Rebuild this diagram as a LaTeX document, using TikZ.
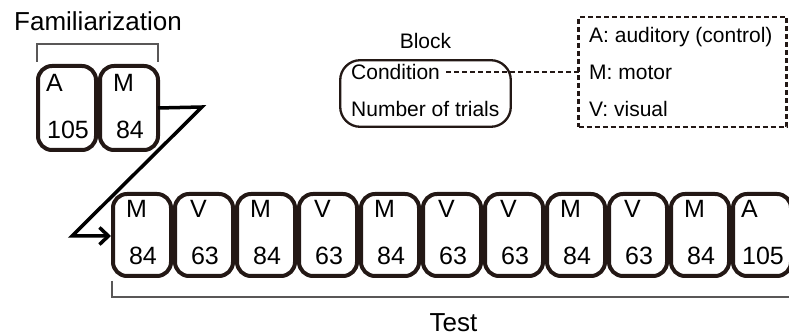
\documentclass[tikz,border=0pt]{standalone}
\usepackage{fontspec}
\setmainfont{Liberation Sans}
\usetikzlibrary{arrows.meta,calc}
\definecolor{boxc}{RGB}{35,24,21}
\definecolor{brk}{RGB}{89,87,87}
\begin{document}
\begin{tikzpicture}[x=1pt,y=-1pt,
  blockbox/.style={draw=boxc,line width=4pt,rounded corners=14pt,minimum width=58pt,inner sep=0pt,outer sep=0pt},
  big/.style={font=\fontsize{25}{30}\selectfont,inner sep=0pt,anchor=base},
  title/.style={font=\fontsize{26}{30}\selectfont,inner sep=0pt,anchor=base},
  small/.style={font=\fontsize{21}{25}\selectfont,inner sep=0pt,anchor=base west},
  bracket/.style={draw=brk,line width=1.5pt},
  dashpat/.style={draw=boxc,line width=2.2pt,dash pattern=on 5pt off 3pt}]
\useasboundingbox (0,0) rectangle (789,336);
\clip (0,0) rectangle (789,336);

% Familiarization
\node[title] (famt) at (98,31) {Familiarization};
\draw[bracket] (37,62) -- (37,44) -- (158,44) -- (158,62);
\node[blockbox,minimum height=84pt] (f1) at (67,108) {};
\node[blockbox,minimum height=84pt] (f2) at (129,108) {};
\node[big] (f1l) at ($(f1.north west)+(16.5,26)$) {A};
\node[big] (f1n) at ($(f1.south)+(1,-11.5)$) {105};
\node[big] (f2l) at ($(f2.north west)+(23.5,26)$) {M};
\node[big] (f2n) at ($(f2.south)+(1,-11.5)$) {84};

% Test
\foreach \l/\n/\o [count=\i from 0] in {M/84/23.5,V/63/23.5,M/84/23.5,V/63/23.5,M/84/23.5,V/63/23.5,V/63/23.5,M/84/23.5,V/63/23.5,M/84/23.5,A/105/16.5}{
  \node[blockbox,minimum height=82pt] (t\i) at ({142+62*\i},235) {};
  \node[big] (t\i l) at ($(t\i.north west)+(\o,24)$) {\l};
  \node[big] (t\i n) at ($(t\i.south)+(1,-11.5)$) {\n};
}
\draw[bracket] (112,281) -- (112,297) -- (800,297);
\node[title] (testt) at (453.5,331) {Test};

% Z arrow
\coordinate (z1) at (202,107);
\coordinate (z2) at (72,236);
\draw[black,line width=3.5pt,shorten >=2pt,-{Straight Barb[length=9pt,width=17pt]}]
  (f2.east) -- (z1) -- (z2) -- (z2 -| t0.west);

% Legend
\node[font=\fontsize{21}{25}\selectfont,inner sep=0pt,anchor=base] (blkt) at (425.5,49) {Block};
\node[draw=boxc,line width=2.3pt,rounded corners=20pt,minimum width=170.6pt,minimum height=66.6pt,inner sep=0pt,outer sep=0pt] (blk) at (425.5,93.5) {};
\node[small] (cond) at (351,80) {Condition};
\node[small] (ntr) at (351,117) {Number of trials};
\node[dashpat,minimum width=208pt,minimum height=110pt,inner sep=0pt,outer sep=0pt] (def) at (682.5,72) {};
\node[small] (da) at (589,43) {A: auditory (control)};
\node[small] (dm) at (589,80) {M: motor};
\node[small] (dv) at (589,117) {V: visual};
\draw[dashpat,line width=2pt,shorten <=6pt] (cond.east) -- (cond.east -| def.west);
\end{tikzpicture}
\end{document}
